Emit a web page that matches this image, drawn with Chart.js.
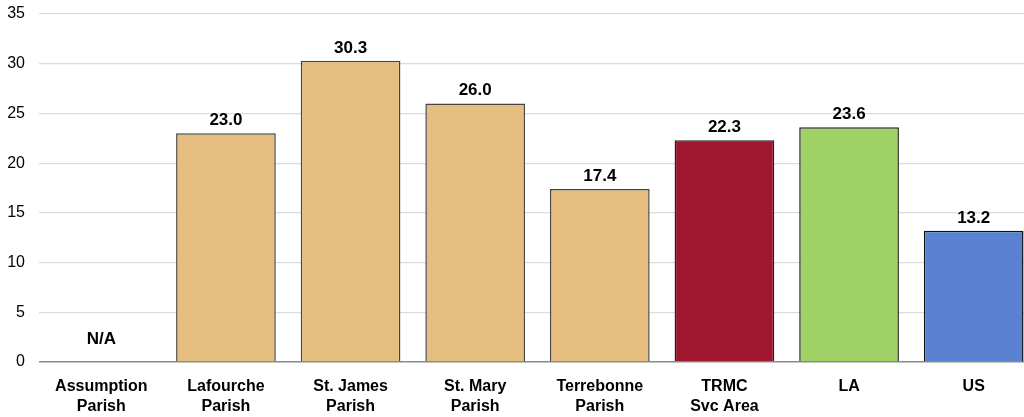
<!DOCTYPE html>
<html>
<head>
<meta charset="utf-8">
<script src="https://cdn.jsdelivr.net/npm/chart.js@4"></script>
<style>
  html, body { margin: 0; padding: 0; background: #fff; overflow: hidden; }
  #wrap { position: relative; width: 1036px; height: 417px; }
</style>
</head>
<body>
<div id="wrap"><canvas id="c"></canvas></div>
<script>
// Categories (two-line labels) and rates per area
const categories = [
  ['Assumption', 'Parish'],
  ['Lafourche', 'Parish'],
  ['St. James', 'Parish'],
  ['St. Mary', 'Parish'],
  ['Terrebonne', 'Parish'],
  ['TRMC', 'Svc Area'],
  ['LA'],
  ['US']
];
const rates = [null, 23.0, 30.3, 26.0, 17.4, 22.3, 23.6, 13.2];
const yTicks = [0, 5, 10, 15, 20, 25, 30, 35];

const TAN = '#E5BD7E', RED = '#A0182F', GREEN = '#A1D267', BLUE = '#5A82D0';
const fillColors = [TAN, TAN, TAN, TAN, TAN, RED, GREEN, BLUE];
const edgeColors = ['#444', '#444', '#444', '#444', '#444', '#222', '#222', '#111'];

const FONT = '"Liberation Sans", Arial, sans-serif';

// Writes each bar's value above it, or "N/A" when no value exists
const valueLabels = {
  id: 'valueLabels',
  afterDatasetsDraw(chart) {
    const ctx = chart.ctx;
    const meta = chart.getDatasetMeta(0);
    const yScale = chart.scales.y;
    ctx.save();
    ctx.font = 'bold 17px ' + FONT;
    ctx.fillStyle = '#000';
    ctx.textAlign = 'center';
    ctx.textBaseline = 'alphabetic';
    meta.data.forEach((bar, i) => {
      const v = rates[i];
      if (v === null || v === undefined) {
        ctx.fillText('N/A', bar.x, yScale.getPixelForValue(0) - 18);
      } else {
        ctx.fillText(v.toFixed(1), bar.x, bar.y - 8);
      }
    });
    ctx.restore();
  }
};

new Chart(document.getElementById('c'), {
  type: 'bar',
  data: {
    labels: categories,
    datasets: [{
      data: rates,
      backgroundColor: fillColors,
      borderColor: edgeColors,
      borderWidth: 1.5,
      borderSkipped: 'bottom',
      barPercentage: 0.8,
      categoryPercentage: 1.0
    }]
  },
  options: {
    responsive: true,
    maintainAspectRatio: false,
    animation: false,
    layout: { padding: { top: 14, right: 0, left: 0, bottom: 0 } },
    plugins: {
      legend: { display: false },
      tooltip: { enabled: false }
    },
    scales: {
      x: {
        grid: { display: false, drawTicks: false },
        border: { display: false },
        ticks: {
          color: '#000',
          font: { family: FONT, size: 16, weight: 'bold', lineHeight: 1.25 },
          padding: 15,
          maxRotation: 0,
          autoSkip: false
        },
        afterFit(scale) { scale.height = 55; }
      },
      y: {
        min: 0,
        max: 35,
        afterBuildTicks(scale) { scale.ticks = yTicks.map(v => ({ value: v })); },
        grid: {
          drawTicks: false,
          color: ctx => ctx.tick && ctx.tick.value === 0 ? '#8a8a8a' : '#dcdcdc',
          lineWidth: ctx => ctx.tick && ctx.tick.value === 0 ? 1.5 : 1.2
        },
        border: { display: false },
        ticks: {
          color: '#000',
          font: { family: FONT, size: 16 },
          padding: 14
        },
        afterFit(scale) {
          scale.width = 39;
          scale.paddingTop = 0;
          scale.paddingBottom = 0;
        }
      }
    }
  },
  plugins: [valueLabels]
});
</script>
</body>
</html>
